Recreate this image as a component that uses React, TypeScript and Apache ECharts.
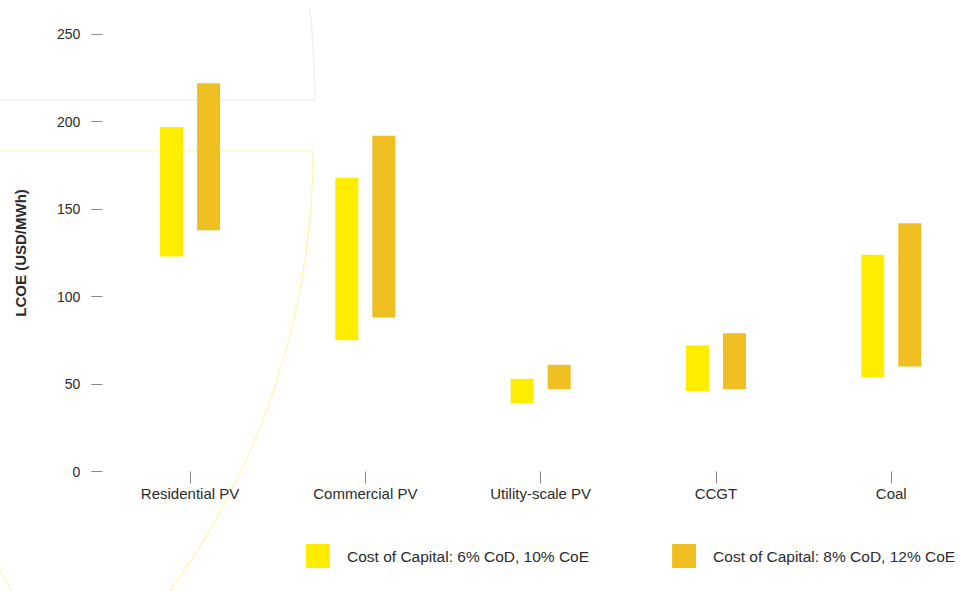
import React, { useEffect, useRef } from "react";
import * as echarts from "echarts";

// Levelised cost of electricity ranges by technology, under two cost-of-capital cases
const categories = ["Residential PV", "Commercial PV", "Utility-scale PV", "CCGT", "Coal"];
const lowCase6 = [123, 75, 39, 46, 54];
const highCase6 = [197, 168, 53, 72, 124];
const lowCase8 = [138, 88, 47, 47, 60];
const highCase8 = [222, 192, 61, 79, 142];
const seriesNames = ["Cost of Capital: 6% CoD, 10% CoE", "Cost of Capital: 8% CoD, 12% CoE"];
const yTicks = { min: 0, max: 250, interval: 50 };

const YELLOW = "#FFED00";
const GOLD = "#F0C022";
const TEXT = "#2b2b2b";

export default function App() {
  const ref = useRef<HTMLDivElement>(null);

  useEffect(() => {
    if (!ref.current) return;
    const chart = echarts.init(ref.current, null, { renderer: "svg" });

    const span = (lo: number[], hi: number[]) => hi.map((h, i) => h - lo[i]);

    const base = (stack: string, data: number[]) => ({
      type: "bar",
      name: "base-" + stack,
      stack,
      barWidth: 23,
      barGap: "61%",
      data,
      itemStyle: { color: "transparent" },
      emphasis: { disabled: true },
      silent: true,
    });

    const range = (stack: string, name: string, color: string, data: number[]) => ({
      type: "bar",
      name,
      stack,
      barWidth: 23,
      barGap: "61%",
      data,
      itemStyle: { color },
    });

    chart.setOption({
      animation: false,
      backgroundColor: "#ffffff",
      textStyle: { fontFamily: "Liberation Sans, Arial, sans-serif" },
      graphic: [
        {
          type: "line",
          z: -10,
          shape: { x1: 0, y1: 100, x2: 315, y2: 100 },
          style: { stroke: "#f1f1f1", lineWidth: 1.5 },
        },
        {
          type: "bezierCurve",
          z: -10,
          shape: { x1: 310, y1: 8, cpx1: 314, cpy1: 50, x2: 315, y2: 100 },
          style: { stroke: "#f1f1f1", lineWidth: 1.5, fill: null },
        },
        {
          type: "line",
          z: -10,
          shape: { x1: 0, y1: 151, x2: 313, y2: 151 },
          style: { stroke: "#fff4b0", lineWidth: 1.2 },
        },
        {
          type: "arc",
          z: -10,
          shape: { cx: -435, cy: 151, r: 748, startAngle: 0, endAngle: 0.65, clockwise: true },
          style: { stroke: "#fff4b0", lineWidth: 1.2, fill: null },
        },
        {
          type: "line",
          z: -10,
          shape: { x1: 0, y1: 570, x2: 11, y2: 591 },
          style: { stroke: "#fff4b0", lineWidth: 1.2 },
        },
      ],
      grid: { left: 102.4, top: 34.3, width: 876.5, bottom: 119.5, containLabel: false },
      legend: {
        data: seriesNames,
        left: 306,
        top: 544,
        padding: 0,
        icon: "rect",
        itemWidth: 24,
        itemHeight: 24,
        itemGap: 83,
        selectedMode: false,
        textStyle: { fontSize: 15.5, color: TEXT, padding: [0, 0, 0, 12] },
      },
      xAxis: {
        type: "category",
        data: categories,
        axisLine: { show: false },
        axisTick: { show: true, alignWithLabel: true, length: 12, lineStyle: { color: "#8a8a8a", width: 1 } },
        axisLabel: { fontSize: 15, color: TEXT, margin: 14 },
      },
      yAxis: {
        type: "value",
        min: yTicks.min,
        max: yTicks.max,
        interval: yTicks.interval,
        name: "LCOE (USD/MWh)",
        nameLocation: "middle",
        nameRotate: 90,
        nameGap: 74,
        nameTextStyle: { fontSize: 15, fontWeight: "bold", color: TEXT },
        splitLine: { show: false },
        axisLine: { show: false },
        axisTick: { show: true, inside: false, length: 11, lineStyle: { color: "#8a8a8a", width: 1 } },
        axisLabel: { fontSize: 14, color: TEXT, margin: 22 },
      },
      series: [
        base("a", lowCase6),
        range("a", seriesNames[0], YELLOW, span(lowCase6, highCase6)),
        base("b", lowCase8),
        range("b", seriesNames[1], GOLD, span(lowCase8, highCase8)),
      ],
    });

    return () => chart.dispose();
  }, []);

  // The plot's last category band runs past the right edge of the view, so the
  // chart surface is wider than the visible frame, which clips it.
  return (
    <div style={{ position: "absolute", left: 0, top: 0, width: 960, height: 591, overflow: "hidden" }}>
      <div ref={ref} style={{ width: 980, height: 591 }} />
    </div>
  );
}
